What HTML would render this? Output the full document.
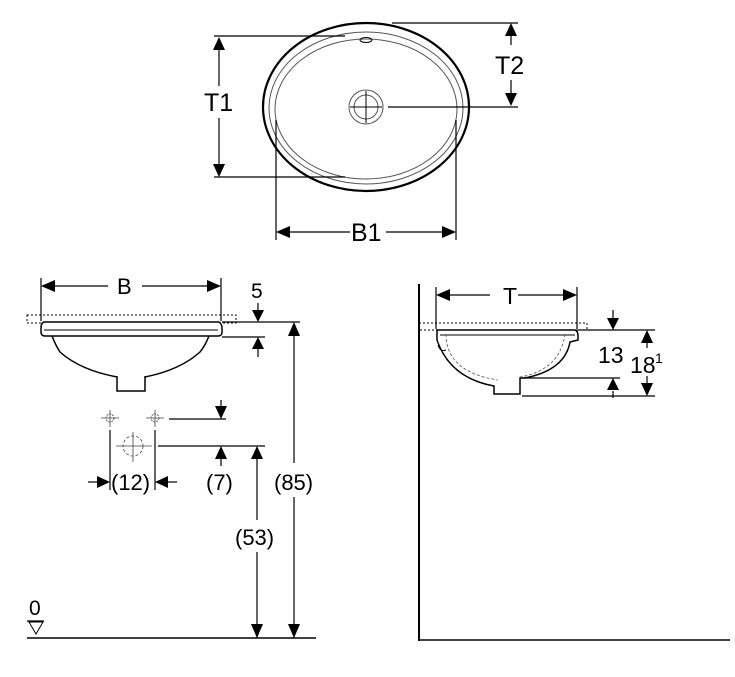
<!DOCTYPE html>
<html><head><style>body{margin:0;background:#fff}svg{display:block}text{font-family:"Liberation Sans",sans-serif;fill:#000;stroke:none}</style></head><body>
<svg width="735" height="677" viewBox="0 0 735 677" xmlns="http://www.w3.org/2000/svg" stroke="#000" fill="none">
<!-- TOP VIEW -->
<ellipse cx="366" cy="107" rx="103" ry="84" stroke-width="2.2"/>
<ellipse cx="366" cy="108" rx="97" ry="76" stroke="#555" stroke-width="1"/>
<ellipse cx="366" cy="109" rx="91" ry="70" stroke="#555" stroke-width="1"/>
<circle cx="366" cy="107" r="17" stroke="#555" stroke-width="1"/>
<circle cx="366" cy="107" r="12" stroke="#555" stroke-width="1"/>
<line x1="366" y1="91" x2="366" y2="123" stroke-width="1"/>
<line x1="350" y1="107" x2="382" y2="107" stroke-width="1"/>
<ellipse cx="366" cy="40" rx="6" ry="2.5" stroke-width="1"/>
<g stroke-width="1.2">
<line x1="214" y1="36" x2="345" y2="36"/><line x1="214" y1="177" x2="345" y2="177"/>
<line x1="219" y1="50" x2="219" y2="86"/><line x1="219" y1="118" x2="219" y2="165"/>
<line x1="392" y1="23" x2="518" y2="23"/><line x1="388" y1="107" x2="518" y2="107"/>
<line x1="511" y1="33" x2="511" y2="45"/><line x1="511" y1="80" x2="511" y2="95"/>
<line x1="276" y1="120" x2="276" y2="240"/><line x1="456" y1="120" x2="456" y2="240"/>
<line x1="288" y1="232" x2="350" y2="232"/><line x1="386" y1="232" x2="444" y2="232"/>
</g>
<g fill="#000" stroke="none">
<polygon points="219,37 213,50 225,50"/><polygon points="219,177 213,164 225,164"/>
<polygon points="511,23 505,36 517,36"/><polygon points="511,106 505,93 517,93"/>
<polygon points="276,232 290,226 290,238"/><polygon points="456,232 442,226 442,238"/>
</g>
<text x="204" y="111" font-size="25">T1</text>
<text x="495" y="74" font-size="25">T2</text>
<text x="351" y="241" font-size="25">B1</text>

<!-- LEFT ELEVATION -->
<rect x="27" y="315" width="209" height="8" stroke-dasharray="2,2" stroke-width="1"/>
<path d="M44,322 L219,322 Q222,324 222,328 L222,332 Q222,336 218,336 L45,336 Q41,336 41,332 L41,328 Q41,323 44,322 Z" fill="#fff" stroke-width="1.5"/>
<line x1="44" y1="330" x2="218" y2="330" stroke-width="1"/>
<path d="M52,336 Q56,346 60,352 Q80,370 117,377 M209,336 Q205,346 200,352 Q180,370 145,377" stroke-width="1.5"/>
<path d="M117,376 L117,391 L145,391 L145,376" stroke-width="1.5"/>
<g stroke-width="1.2">
<line x1="41" y1="278" x2="41" y2="321"/><line x1="221" y1="278" x2="221" y2="321"/>
<line x1="55" y1="286" x2="108" y2="286"/><line x1="142" y1="286" x2="208" y2="286"/>
<line x1="222" y1="322" x2="300" y2="322"/><line x1="222" y1="337" x2="265" y2="337"/>
<line x1="258" y1="303" x2="258" y2="312"/><line x1="258" y1="347" x2="258" y2="357"/>
<line x1="294" y1="336" x2="294" y2="463"/><line x1="294" y1="497" x2="294" y2="638"/>
<line x1="169" y1="419" x2="226" y2="419"/><line x1="158" y1="446" x2="265" y2="446"/>
<line x1="221" y1="400" x2="221" y2="407"/><line x1="221" y1="458" x2="221" y2="466"/>
<line x1="257" y1="458" x2="257" y2="520"/><line x1="257" y1="552" x2="257" y2="638"/>
<line x1="110" y1="430" x2="110" y2="490"/><line x1="155" y1="430" x2="155" y2="490"/>
<line x1="88" y1="482" x2="98" y2="482"/><line x1="167" y1="482" x2="177" y2="482"/>
<line x1="27" y1="638" x2="316" y2="638" stroke-width="1.5"/>
<line x1="27" y1="621" x2="44" y2="621"/>
</g>
<g stroke-width="0.8" stroke="#444">
<line x1="101" y1="418" x2="119" y2="418"/><line x1="110" y1="410" x2="110" y2="427"/>
<circle cx="110" cy="418" r="4" stroke-dasharray="2,1"/>
<line x1="146" y1="418" x2="164" y2="418"/><line x1="155" y1="410" x2="155" y2="427"/>
<circle cx="155" cy="418" r="4" stroke-dasharray="2,1"/>
<line x1="116" y1="446" x2="152" y2="446"/><line x1="133" y1="432" x2="133" y2="462"/>
<circle cx="133" cy="446" r="10" stroke-dasharray="3,2"/>
</g>
<polygon points="29,622 43,622 36,634" stroke-width="1"/>
<g fill="#000" stroke="none">
<polygon points="41,286 55,280 55,292"/><polygon points="221,286 207,280 207,292"/>
<polygon points="258,322 252,310 264,310"/><polygon points="258,337 252,349 264,349"/>
<polygon points="294,322 288,336 300,336"/><polygon points="294,638 288,624 300,624"/>
<polygon points="221,419 215,406 227,406"/><polygon points="221,446 215,459 227,459"/>
<polygon points="257,446 251,459 263,459"/><polygon points="257,638 251,624 263,624"/>
<polygon points="110,482 97,476 97,488"/><polygon points="155,482 168,476 168,488"/>
</g>
<text x="117" y="294" font-size="22">B</text>
<text x="251" y="298" font-size="21">5</text>
<text x="111" y="490" font-size="22">(12)</text>
<text x="206" y="490" font-size="22">(7)</text>
<text x="274" y="490" font-size="22">(85)</text>
<text x="235" y="545" font-size="22">(53)</text>
<text x="29" y="615" font-size="21">0</text>

<!-- RIGHT ELEVATION -->
<line x1="419" y1="284" x2="419" y2="641" stroke-width="2"/>
<line x1="418" y1="640" x2="730" y2="640" stroke-width="1.5"/>
<rect x="419" y="323" width="168" height="7" stroke-dasharray="2,2" stroke-width="1"/>
<path d="M437,330 L575,330 Q578,331 578,336 L578,340 L570,342 Q565,370 525,378 L520,378 L520,394 L494,394 L494,386 Q450,378 437,340 Z" fill="#fff" stroke-width="1.5"/>
<line x1="440" y1="335" x2="575" y2="335" stroke-width="1"/>
<path d="M446,334 Q446,372 498,380 M565,334 Q560,370 520,377" stroke="#555" stroke-width="0.8" stroke-dasharray="3,2"/>
<path d="M438,345 Q440,352 446,350" stroke-width="1"/>
<g stroke-width="1.2">
<line x1="436" y1="287" x2="436" y2="329"/><line x1="577" y1="287" x2="577" y2="329"/>
<line x1="450" y1="295" x2="490" y2="295"/><line x1="518" y1="295" x2="563" y2="295"/>
<line x1="578" y1="330" x2="655" y2="330"/><line x1="522" y1="378" x2="620" y2="378"/>
<line x1="522" y1="396" x2="655" y2="396"/>
<line x1="613" y1="310" x2="613" y2="318"/><line x1="613" y1="391" x2="613" y2="398"/>
<line x1="647" y1="343" x2="647" y2="348"/><line x1="647" y1="376" x2="647" y2="383"/>
</g>
<g fill="#000" stroke="none">
<polygon points="436,295 450,289 450,301"/><polygon points="577,295 563,289 563,301"/>
<polygon points="613,330 607,318 619,318"/><polygon points="613,378 607,390 619,390"/>
<polygon points="647,330 641,343 653,343"/><polygon points="647,396 641,383 653,383"/>
</g>
<text x="503" y="304" font-size="23">T</text>
<text x="598" y="363" font-size="23">13</text>
<text x="630" y="373" font-size="23">18</text>
<text x="655" y="363" font-size="14">1</text>
</svg>
</body></html>
